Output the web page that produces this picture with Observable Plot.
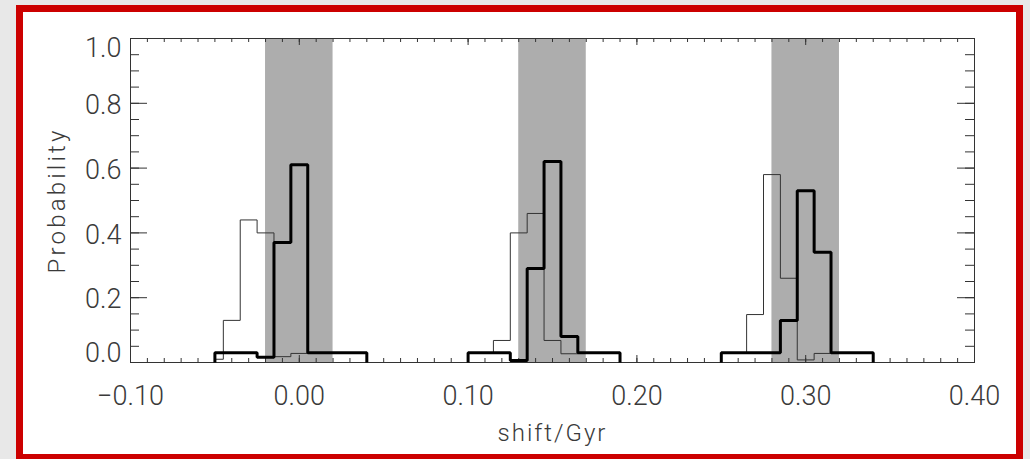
<!DOCTYPE html>
<html><head><meta charset="utf-8">
<script src="https://cdn.jsdelivr.net/npm/d3@7"></script>
<script src="https://cdn.jsdelivr.net/npm/@observablehq/plot@0.6"></script>
<style>
html,body{margin:0;padding:0;width:1030px;height:459px;overflow:hidden;background:#e8e8e8;}
#box{position:absolute;left:16px;top:5px;width:993px;height:442px;border:7px solid #cc0000;background:#fff;}
#chart{position:absolute;left:0;top:0;}
</style></head><body>
<div id="box"></div>
<div id="chart"></div>
<script>
// Shaded bands
const bandLo = [-0.02, 0.13, 0.28];
const bandHi = [0.02, 0.17, 0.32];

// Thin histograms (bin edges and probabilities)
const thinEdges1 = [-0.05, -0.045, -0.035, -0.025, -0.015, -0.005, 0.005, 0.04];
const thinVals1  = [0.01, 0.13, 0.44, 0.40, 0.018, 0.028, 0.03];
const thinEdges2 = [0.10, 0.115, 0.125, 0.135, 0.145, 0.155, 0.165, 0.19];
const thinVals2  = [0.03, 0.068, 0.40, 0.46, 0.068, 0.027, 0.03];
const thinEdges3 = [0.25, 0.265, 0.275, 0.285, 0.295, 0.305, 0.315, 0.34];
const thinVals3  = [0.03, 0.148, 0.58, 0.26, 0.008, 0.028, 0.03];

// Thick histograms
const thickEdges1 = [-0.05, -0.025, -0.015, -0.005, 0.005, 0.04];
const thickVals1  = [0.03, 0.016, 0.37, 0.61, 0.03];
const thickEdges2 = [0.10, 0.125, 0.135, 0.145, 0.155, 0.165, 0.19];
const thickVals2  = [0.03, 0.006, 0.29, 0.62, 0.08, 0.03];
const thickEdges3 = [0.25, 0.285, 0.295, 0.305, 0.315, 0.34];
const thickVals3  = [0.03, 0.13, 0.53, 0.34, 0.03];

// Axis ticks and labels
const xTicks = [-0.1, 0, 0.1, 0.2, 0.3, 0.4];
const xTickLabels = ["\u22120.10", "0.00", "0.10", "0.20", "0.30", "0.40"];
const yTicksMid = [0.2, 0.4, 0.6, 0.8];
const yTickLabelsMid = ["0.2", "0.4", "0.6", "0.8"];
const yTicks = [0, 0.2, 0.4, 0.6, 0.8, 1.0];
const xTitle = "shift/Gyr";
const yTitle = "Probability";

const xMinor = d3.range(0, 51).map(i => -0.1 + i * 0.01);
const yMinor = d3.range(0, 21).map(i => i * 0.05);

function outline(edges, vals, g) {
  const pts = [{x: edges[0], y: 0, g}];
  vals.forEach((v, i) => pts.push({x: edges[i], y: v, g}));
  pts.push({x: edges[edges.length - 1], y: 0, g});
  return pts;
}
const thin = [].concat(outline(thinEdges1, thinVals1, 1), outline(thinEdges2, thinVals2, 2), outline(thinEdges3, thinVals3, 3));
const thick = [].concat(outline(thickEdges1, thickVals1, 1), outline(thickEdges2, thickVals2, 2), outline(thickEdges3, thickVals3, 3));
const bands = bandLo.map((lo, i) => ({lo, hi: bandHi[i]}));

const mL = 130, mR = 56, mT = 38, mB = 97, W = 1030, H = 459;
const fW = W - mL - mR, fH = H - mT - mB;
const font = {fontFamily: "Roboto, 'Open Sans', sans-serif", fontWeight: 300, fill: "#3a3a3a"};
const tc = "#333";

const chart = Plot.plot({
  width: W, height: H,
  marginLeft: mL, marginRight: mR, marginTop: mT, marginBottom: mB,
  x: {domain: [-0.1, 0.4], axis: null},
  y: {domain: [0, 1], axis: null},
  style: {background: "transparent", overflow: "visible"},
  marks: [
    Plot.rect(bands, {x1: "lo", x2: "hi", fill: "#adadad"}),
    Plot.tickX(xMinor, {insetTop: fH - 4, stroke: tc}),
    Plot.tickX(xMinor, {insetBottom: fH - 4, stroke: tc}),
    Plot.tickX(xTicks, {insetTop: fH - 7, stroke: tc}),
    Plot.tickX(xTicks, {insetBottom: fH - 7, stroke: tc}),
    Plot.tickY(yMinor, {insetRight: fW - 9, stroke: tc}),
    Plot.tickY(yMinor, {insetLeft: fW - 9, stroke: tc}),
    Plot.tickY(yTicks, {insetRight: fW - 17, stroke: tc}),
    Plot.tickY(yTicks, {insetLeft: fW - 17, stroke: tc}),
    Plot.frame({stroke: tc}),
    Plot.line(thin, {x: "x", y: "y", z: "g", curve: "step-after", stroke: "#333", strokeWidth: 1, strokeLinejoin: "miter"}),
    Plot.line(thick, {x: "x", y: "y", z: "g", curve: "step-after", stroke: "#000", strokeWidth: 3, strokeLinejoin: "miter", strokeLinecap: "butt"}),
    Plot.text(xTicks, {x: d => d, text: (d, i) => xTickLabels[i], frameAnchor: "bottom", lineAnchor: "middle", textAnchor: "middle", dy: 34, fontSize: 27, ...font}),
    Plot.text(yTicksMid, {y: d => d, text: (d, i) => yTickLabelsMid[i], frameAnchor: "left", lineAnchor: "middle", dx: -9, dy: 2, textAnchor: "end", fontSize: 27, ...font}),
    Plot.text([0], {y: d => d, text: () => "0.0", frameAnchor: "left", lineAnchor: "middle", dx: -9, dy: -9, textAnchor: "end", fontSize: 27, ...font}),
    Plot.text([1], {y: d => d, text: () => "1.0", frameAnchor: "left", lineAnchor: "middle", dx: -9, dy: 10, textAnchor: "end", fontSize: 27, ...font}),
    Plot.text([yTitle], {frameAnchor: "left", textAnchor: "middle", lineAnchor: "middle", dx: -73, rotate: -90, fontSize: 24, ...font}),
    Plot.text([xTitle], {frameAnchor: "bottom", textAnchor: "middle", lineAnchor: "middle", dy: 71, fontSize: 24, ...font})
  ]
});
d3.select(chart).selectAll("text").filter(function() { return this.textContent === yTitle; }).attr("letter-spacing", "3.2px");
d3.select(chart).selectAll("text").filter(function() { return this.textContent === xTitle; }).attr("letter-spacing", "2px");
document.getElementById("chart").appendChild(chart);
</script></body></html>
